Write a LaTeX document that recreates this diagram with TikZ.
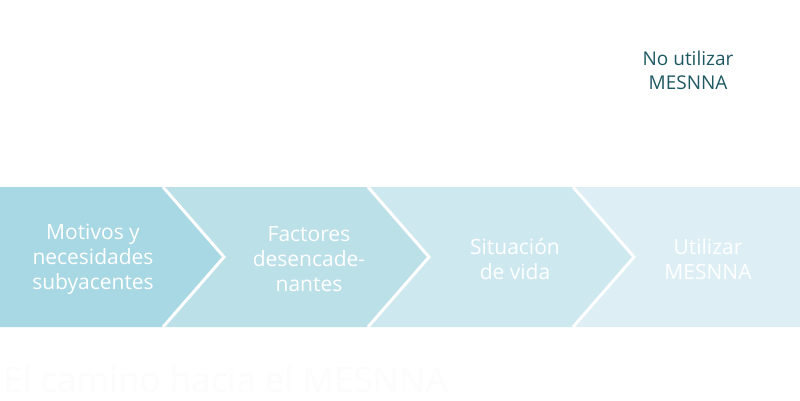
\documentclass[tikz,border=0pt]{standalone}
\usepackage{fontspec}
\setmainfont{Open Sans}
\definecolor{cA}{RGB}{168,216,227}
\definecolor{cB}{RGB}{188,224,232}
\definecolor{cC}{RGB}{206,232,239}
\definecolor{cD}{RGB}{221,239,244}
\definecolor{tealtxt}{RGB}{31,90,100}
\definecolor{ghost}{RGB}{252,252,252}
\begin{document}
\begin{tikzpicture}[x=1pt,y=-1pt,
  steptext/.style={text=white,font=\fontsize{21}{25}\selectfont,align=center},
  sep/.style={draw=white,line width=3pt}]
\useasboundingbox (0,0) rectangle (800,401);
\fill[white] (0,0) rectangle (800,401);
% chevrons
\fill[cA] (0,187) -- (163,187) -- (224,257) -- (163,327) -- (0,327) -- cycle;
\fill[cB] (163,187) -- (368,187) -- (429,257) -- (368,327) -- (163,327) -- (224,257) -- cycle;
\fill[cC] (368,187) -- (573,187) -- (634,257) -- (573,327) -- (368,327) -- (429,257) -- cycle;
\fill[cD] (573,187) -- (800,187) -- (800,327) -- (573,327) -- (634,257) -- cycle;
\draw[sep] (163,187) -- (224,257) -- (163,327);
\draw[sep] (368,187) -- (429,257) -- (368,327);
\draw[sep] (573,187) -- (634,257) -- (573,327);
% texts
\node[steptext] (t1) at (93,259) {Motivos y\\necesidades\\subyacentes};
\node[steptext] (t2) at (309,259) {Factores\\desencade-\\nantes};
\node[steptext] (t3) at (515,259) {Situación\\de vida};
\node[steptext] (t4) at (708,259) {Utilizar\\MESNNA};
\node[text=tealtxt,font=\fontsize{19}{24}\selectfont,align=center] (top) at (688,70) {No utilizar\\MESNNA};
\node[text=ghost,font=\fontsize{35}{40}\selectfont,anchor=base west,inner sep=0pt] (ghost) at (3,392) {El camino hacia el MESNNA};
\end{tikzpicture}
\end{document}
